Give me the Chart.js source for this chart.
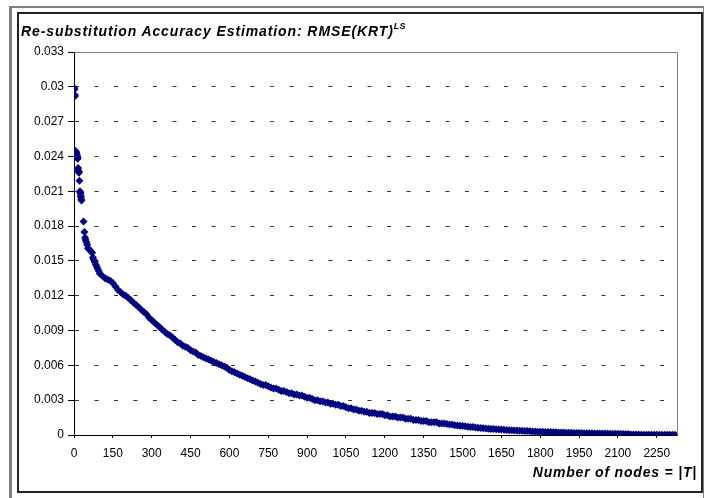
<!DOCTYPE html>
<html>
<head>
<meta charset="utf-8">
<script src="https://cdn.jsdelivr.net/npm/chart.js@4"></script>
<style>
  body { margin: 0; background: #fff; width: 704px; height: 498px; overflow: hidden; position: relative; }
  .grey { position: absolute; background: #808080; }
  #frame { position: absolute; left: 17px; top: 12px; width: 682px; height: 477px; border: 2px solid #222; }
  #chart { position: absolute; left: 0; top: 0; }
  .title { position: absolute; font-family: "Liberation Sans", Arial, sans-serif; font-weight: bold; font-style: italic; color: #000; white-space: nowrap; letter-spacing: 0.9px; }
  #mainTitle { left: 21px; top: 23px; font-size: 14px; line-height: 16px; }
  #mainTitle span { font-size: 9px; position: relative; top: -7px; letter-spacing: 0.3px; }
  #xTitle { right: 7px; top: 464px; font-size: 14px; line-height: 16px; letter-spacing: 0.8px; }
</style>
</head>
<body>
<div class="grey" style="left:10px; top:6px; width:694px; height:2px;"></div>
<div class="grey" style="left:9px; top:6px; width:3px; height:492px;"></div>
<div class="grey" style="left:703px; top:6px; width:1px; height:492px;"></div>
<div id="frame"></div>
<canvas id="chart" width="704" height="498"></canvas>
<div class="title" id="mainTitle">Re-substitution Accuracy Estimation: RMSE(KRT)<span>LS</span></div>
<div class="title" id="xTitle">Number of nodes = |T|</div>

<script>
// tree size (number of terminal nodes) and resubstitution RMSE
const nodes = [
  1, 2, 3, 4, 5, 6, 7, 8, 9, 10,
  11, 12, 13, 14, 16, 17, 18, 19, 21, 23,
  24, 25, 26, 27, 28, 29, 37, 40, 43, 45,
  48, 51, 54, 58, 62, 66, 70, 73, 76, 80,
  84, 88, 92, 96, 100,
  110, 120, 130, 140, 150, 160, 170, 180, 190, 200,
  210, 220, 230, 240, 250, 260, 270, 280, 290, 300,
  310, 320, 330, 340, 350, 360, 370, 380, 390, 400,
  410, 420, 430, 440, 450, 460, 470, 480, 490, 500,
  510, 520, 530, 540, 550, 560, 570, 580, 590, 600,
  610, 620, 630, 640, 650, 660, 670, 680, 690, 700,
  710, 720, 730, 740, 750, 760, 770, 780, 790, 800,
  810, 820, 830, 840, 850, 860, 870, 880, 890, 900,
  910, 920, 930, 940, 950, 960, 970, 980, 990, 1000,
  1010, 1020, 1030, 1040, 1050, 1060, 1070, 1080, 1090, 1100,
  1110, 1120, 1130, 1140, 1150, 1160, 1170, 1180, 1190, 1200,
  1210, 1220, 1230, 1240, 1250, 1260, 1270, 1280, 1290, 1300,
  1310, 1320, 1330, 1340, 1350, 1360, 1370, 1380, 1390, 1400,
  1410, 1420, 1430, 1440, 1450, 1460, 1470, 1480, 1490, 1500,
  1510, 1520, 1530, 1540, 1550, 1560, 1570, 1580, 1590, 1600,
  1610, 1620, 1630, 1640, 1650, 1660, 1670, 1680, 1690, 1700,
  1710, 1720, 1730, 1740, 1750, 1760, 1770, 1780, 1790, 1800,
  1810, 1820, 1830, 1840, 1850, 1860, 1870, 1880, 1890, 1900,
  1910, 1920, 1930, 1940, 1950, 1960, 1970, 1980, 1990, 2000,
  2010, 2020, 2030, 2040, 2050, 2060, 2070, 2080, 2090, 2100,
  2110, 2120, 2130, 2140, 2150, 2160, 2170, 2180, 2190, 2200,
  2210, 2220, 2230, 2240, 2250, 2260, 2270, 2280, 2290, 2300,
  2310, 2320
];

const rmse = [
  0.0299, 0.0298, 0.0293, 0.0292, 0.0245, 0.0244, 0.0244, 0.0243, 0.0243, 0.0242,
  0.0241, 0.0240, 0.0239, 0.0238, 0.0230, 0.0228, 0.0227, 0.0226, 0.0219, 0.0210,
  0.0209, 0.0208, 0.0206, 0.0205, 0.0203, 0.0202, 0.0184, 0.0175, 0.0170, 0.0168,
  0.0166, 0.0164, 0.0161, 0.0160, 0.0159, 0.0158, 0.0157, 0.0153, 0.0151, 0.0149,
  0.0147, 0.0145, 0.0143, 0.0141, 0.0139,
  0.0137, 0.0135, 0.0134, 0.0133, 0.0131, 0.0128, 0.0125, 0.0123, 0.0121, 0.0120,
  0.0118, 0.0116, 0.0114, 0.0112, 0.0110, 0.0108, 0.0106, 0.0104, 0.0101, 0.0099,
  0.0097, 0.0095, 0.0093, 0.0091, 0.0089, 0.0087, 0.0086, 0.0084, 0.0082, 0.0080,
  0.0079, 0.0077, 0.0076, 0.0075, 0.0073, 0.0072, 0.0071, 0.0069, 0.0068, 0.0067,
  0.0066, 0.0065, 0.0064, 0.0063, 0.0062, 0.0061, 0.0060, 0.0059, 0.0058, 0.0056,
  0.0055, 0.0054, 0.0053, 0.0052, 0.0051, 0.0050, 0.0049, 0.0048, 0.0047, 0.0046,
  0.0045, 0.0044, 0.0043, 0.0043, 0.0042, 0.0041, 0.0040, 0.0040, 0.0039, 0.0038,
  0.0038, 0.0037, 0.0036, 0.0036, 0.0035, 0.0035, 0.0034, 0.0034, 0.0033, 0.0032,
  0.0032, 0.0031, 0.0030, 0.0030, 0.0029, 0.0029, 0.0028, 0.0028, 0.0027, 0.0027,
  0.0026, 0.0026, 0.0025, 0.0025, 0.0024, 0.0023, 0.0023, 0.0022, 0.0022, 0.0021,
  0.0021, 0.0020, 0.0020, 0.0019, 0.0019, 0.0019, 0.0018, 0.0018, 0.0018, 0.0017,
  0.0017, 0.0016, 0.0016, 0.0016, 0.0015, 0.0015, 0.0015, 0.0014, 0.0014, 0.0014,
  0.0013, 0.0013, 0.0013, 0.0012, 0.0012, 0.0012, 0.0011, 0.0011, 0.0011, 0.0011,
  0.0010, 0.0010, 0.0010, 0.00095, 0.0009, 0.0009, 0.00085, 0.00082, 0.0008, 0.00078,
  0.00075, 0.00072, 0.0007, 0.00068, 0.00065, 0.00062, 0.0006, 0.00058, 0.00056, 0.00054,
  0.00052, 0.00051, 0.0005, 0.00048, 0.00047, 0.00045, 0.00043, 0.00042, 0.0004, 0.00039,
  0.00038, 0.00037, 0.00036, 0.00035, 0.00034, 0.00033, 0.00031, 0.0003, 0.00029, 0.00028,
  0.00027, 0.00026, 0.00025, 0.00025, 0.00024, 0.00023, 0.00022, 0.00022, 0.00021, 0.0002,
  0.0002, 0.00019, 0.00018, 0.00018, 0.00017, 0.00017, 0.00016, 0.00016, 0.00015, 0.00015,
  0.00014, 0.00014, 0.00013, 0.00013, 0.00012, 0.00012, 0.00011, 0.00011, 0.0001, 0.0001,
  0.0001, 0.00009, 0.00009, 0.00008, 0.00005, 0.00004, 0.00004, 0.00004, 0.00003, 0.00003,
  0.00003, 0.00003, 0.00003, 0.00002, 0.00002, 0.00002, 0.00002, 0.00002, 0.00002, 0.00002,
  0.00002, 0.00002
];

// axis tick labels
const xTicks = [0, 150, 300, 450, 600, 750, 900, 1050, 1200, 1350, 1500, 1650, 1800, 1950, 2100, 2250];
const yTicks = [0, 0.003, 0.006, 0.009, 0.012, 0.015, 0.018, 0.021, 0.024, 0.027, 0.03, 0.033];
const xMax = 2328;

const tickFont = { family: '"Liberation Sans", Arial, sans-serif', size: 12 };

// grey border on the top and right of the plot area, like Excel's plot frame
const plotFrame = {
  id: 'plotFrame',
  beforeDatasetsDraw(chart) {
    const { ctx, chartArea: a } = chart;
    ctx.save();
    ctx.strokeStyle = '#808080';
    ctx.lineWidth = 1;
    ctx.beginPath();
    ctx.moveTo(Math.round(a.left) + 0.5, Math.round(a.top) + 0.5);
    ctx.lineTo(Math.round(a.right) + 0.5, Math.round(a.top) + 0.5);
    ctx.lineTo(Math.round(a.right) + 0.5, Math.round(a.bottom) + 0.5);
    ctx.stroke();
    ctx.restore();
  }
};

const points = nodes.map((n, i) => ({ x: n, y: rmse[i] }));

new Chart(document.getElementById('chart'), {
  type: 'scatter',
  data: {
    datasets: [{
      data: points,
      pointStyle: 'rectRot',
      pointRadius: 4,
      pointBorderWidth: 0,
      backgroundColor: '#000080',
      borderColor: '#000080'
    }]
  },
  options: {
    responsive: false,
    devicePixelRatio: 1,
    animation: false,
    layout: { padding: { left: 0, top: 52, right: 27, bottom: 0 } },
    plugins: {
      legend: { display: false },
      title: { display: false },
      tooltip: { enabled: false }
    },
    scales: {
      x: {
        type: 'linear',
        min: 0,
        max: xMax,
        afterBuildTicks: (scale) => {
          scale.ticks = xTicks.map(v => ({ value: v }));
        },
        afterFit: (scale) => { scale.height = 63; },
        border: { color: '#000', width: 1 },
        grid: { drawOnChartArea: false, drawTicks: true, tickLength: 3, tickColor: '#000' },
        ticks: {
          autoSkip: false,
          maxRotation: 0,
          color: '#000',
          font: tickFont,
          padding: 8,
          callback: (v) => String(v)
        }
      },
      y: {
        min: 0,
        max: yTicks[yTicks.length - 1],
        afterBuildTicks: (scale) => {
          scale.ticks = yTicks.map(v => ({ value: v }));
        },
        afterFit: (scale) => { scale.width = 74; },
        border: { color: '#000', width: 1, dash: [4, 15.5] },
        grid: { color: '#333', lineWidth: 1, drawTicks: true, tickLength: 6, tickColor: '#000' },
        ticks: {
          color: '#000',
          font: tickFont,
          padding: 4,
          callback: (v) => String(v)
        }
      }
    }
  },
  plugins: [plotFrame]
});
</script>
</body>
</html>
